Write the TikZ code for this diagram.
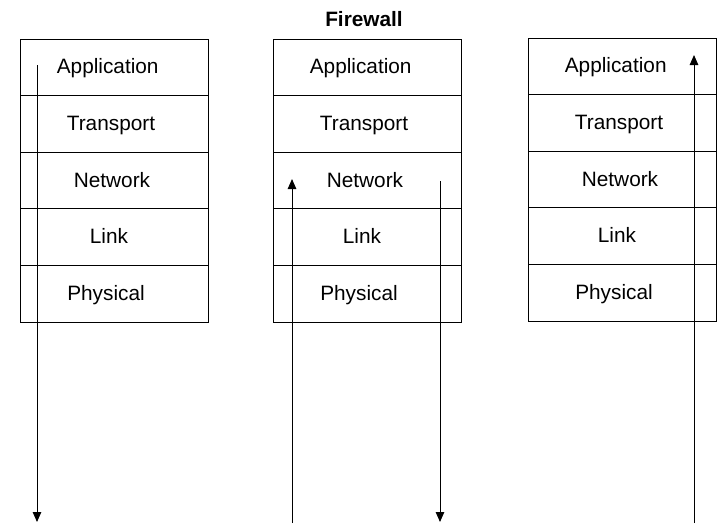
\documentclass[tikz,border=0pt]{standalone}
\usepackage{fontspec}
\setmainfont{Liberation Sans}
\usetikzlibrary{arrows.meta,calc}
\begin{document}
\begin{tikzpicture}[x=1pt,y=-1pt,
  layer/.style={draw, line width=0.9pt, minimum width=188pt, minimum height=56.6pt,
                anchor=north west, inner sep=0pt, outer sep=0pt},
  lbl/.style={anchor=base, font=\fontsize{20.8}{24}\selectfont, inner sep=0pt},
  flow/.style={line width=1pt, -{Triangle[width=8.5pt,length=10pt]}}]
\useasboundingbox (0,0) rectangle (719,523);
\fill[white] (0,0) rectangle (719,523);
\foreach \s/\x/\y in {1/20/39, 2/273/39, 3/528/38} {
  \foreach \n/\t/\dx [count=\i from 0] in {app/Application/-6.3, tra/Transport/-3, net/Network/-2, lin/Link/-5, phy/Physical/-8} {
    \node[layer] (s\s\n) at (\x, \y+\i*56.6) {};
    \node[lbl] (t\s\n) at ($(s\s\n.center)+(\dx,6.5)$) {\t};
  }
}
\node[lbl, font=\fontsize{20.8}{24}\selectfont\bfseries] (fw) at (364,26) {Firewall};
\coordinate (a1s) at (37,65);   \coordinate (a1e) at (37,522);
\coordinate (a2s) at (292,523); \coordinate (a2e) at (292,179);
\coordinate (a3s) at (440,181); \coordinate (a3e) at (440,522);
\coordinate (a4s) at (694,523); \coordinate (a4e) at (694,55);
\draw[flow] (a1s) -- (a1e);
\draw[flow] (a2s) -- (a2e);
\draw[flow] (a3s) -- (a3e);
\draw[flow] (a4s) -- (a4e);
\end{tikzpicture}
\end{document}
